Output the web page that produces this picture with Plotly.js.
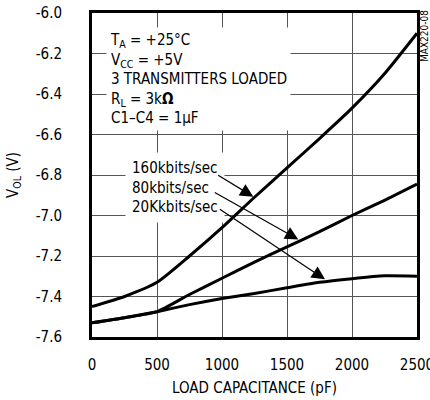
<!DOCTYPE html>
<html>
<head>
<meta charset="utf-8">
<script src="https://cdn.plot.ly/plotly-3.0.1.min.js"></script>
<style>html,body{margin:0;padding:0;background:#fff;}#chart{width:430px;height:400px;}</style>
</head>
<body>
<div id="chart"></div>
<script>
var capacitance = [0, 250, 500, 750, 1000, 1250, 1500, 1750, 2000, 2250, 2500];
var vol160 = [-7.45, -7.40, -7.33, -7.20, -7.06, -6.91, -6.765, -6.62, -6.47, -6.30, -6.10];
var vol80  = [-7.53, -7.505, -7.475, -7.39, -7.31, -7.23, -7.155, -7.08, -7.00, -6.925, -6.845];
var vol20  = [-7.53, -7.505, -7.475, -7.44, -7.41, -7.385, -7.357, -7.33, -7.312, -7.298, -7.30];
var seriesNames = ['160kbits/sec', '80kbits/sec', '20Kkbits/sec'];
var xTicks = [0, 500, 1000, 1500, 2000, 2500];
var yTicks = [-6.0, -6.2, -6.4, -6.6, -6.8, -7.0, -7.2, -7.4, -7.6];
var yTickText = ['-6.0', '-6.2', '-6.4', '-6.6', '-6.8', '-7.0', '-7.2', '-7.4', '-7.6'];
var conditions = ['T<sub>A</sub> = +25°C', 'V<sub>CC</sub> = +5V', '3 TRANSMITTERS LOADED', 'R<sub>L</sub> = 3k<b>Ω</b>', 'C1–C4 = 1µF'];

var FONT = '"DejaVu Sans Condensed", "Liberation Sans", Arial, sans-serif';
var FS = 15;
var lineStyle = {color: '#000', width: 3, shape: 'spline', smoothing: 0.6};

var traces = [vol160, vol80, vol20].map(function (v, i) {
  return {x: capacitance, y: v, type: 'scatter', mode: 'lines', name: seriesNames[i], line: lineStyle, hoverinfo: 'none'};
});

var arrowBase = {xref: 'x', yref: 'y', axref: 'x', ayref: 'y', text: '', showarrow: true,
  arrowhead: 2, arrowsize: 2.2, arrowwidth: 1.2, arrowcolor: '#000', standoff: 0};

var layout = {
  width: 430, height: 400,
  margin: {l: 92, r: 13, t: 13, b: 63},
  paper_bgcolor: '#fff', plot_bgcolor: '#fff',
  showlegend: false,
  font: {family: FONT, size: FS, color: '#000'},
  xaxis: {
    range: [0, 2500], tickvals: xTicks, ticktext: xTicks.map(String),
    showgrid: true, gridcolor: '#555', gridwidth: 1,
    zeroline: false, showline: true, linecolor: '#000', linewidth: 3, mirror: true,
    ticks: '', ticklabelstandoff: 12, ticklabeloverflow: 'allow',
    tickfont: {family: FONT, size: FS, color: '#000'},
    title: {text: 'LOAD CAPACITANCE (pF)', font: {family: FONT, size: FS, color: '#000'}, standoff: 10}
  },
  yaxis: {
    range: [-7.6, -6.0], tickvals: yTicks, ticktext: yTickText,
    showgrid: true, gridcolor: '#555', gridwidth: 1,
    zeroline: false, showline: true, linecolor: '#000', linewidth: 3, mirror: true,
    ticks: '', ticklabelstandoff: 24,
    tickfont: {family: FONT, size: FS, color: '#000'},
    title: {text: 'V<sub>OL</sub> (V)', font: {family: FONT, size: FS, color: '#000'}, standoff: 14}
  },
  annotations: [
    {xref: 'x', yref: 'y', x: 108, y: -6.328, xanchor: 'left', yanchor: 'middle', align: 'left',
     text: conditions.join('<br>'), showarrow: false, bgcolor: '#fff', borderpad: 3,
     font: {family: FONT, size: FS, color: '#000'}},
    {xref: 'x', yref: 'y', x: 257, y: -6.862, xanchor: 'left', yanchor: 'middle', align: 'left',
     text: seriesNames.join('<br>'), showarrow: false, bgcolor: '#fff', borderpad: 6,
     font: {family: FONT, size: FS, color: '#000'}},
    Object.assign({}, arrowBase, {x: 1241, y: -6.907, ax: 959, ay: -6.797}),
    Object.assign({}, arrowBase, {x: 1587, y: -7.118, ax: 933, ay: -6.882}),
    Object.assign({}, arrowBase, {x: 1792, y: -7.315, ax: 972, ay: -6.964}),
    {xref: 'paper', yref: 'paper', x: 1.0215, y: 0.929, textangle: -90, xanchor: 'center', yanchor: 'middle',
     text: 'MAX220-08', showarrow: false, font: {family: FONT, size: 10, color: '#000'}}
  ]
};

Plotly.newPlot('chart', traces, layout, {staticPlot: true, displayModeBar: false});
</script>
</body>
</html>
